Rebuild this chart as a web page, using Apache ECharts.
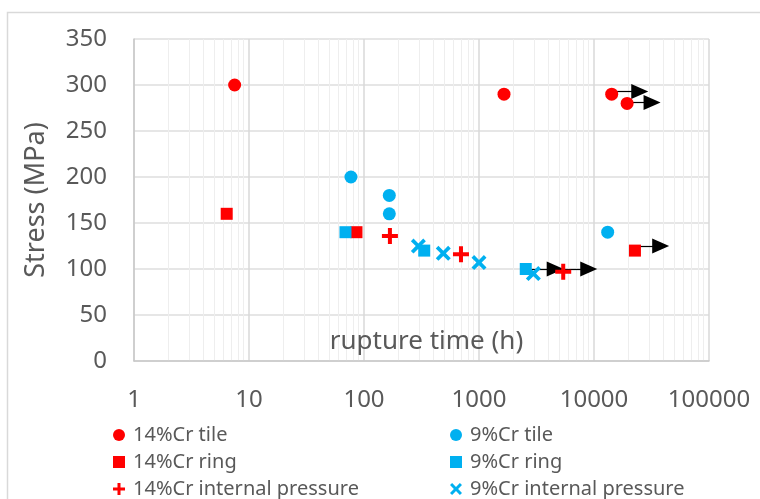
<!DOCTYPE html>
<html><head><meta charset="utf-8">
<script src="https://cdn.jsdelivr.net/npm/echarts@6/dist/echarts.min.js"></script>
<style>html,body{margin:0;padding:0;background:#fff}#c{width:760px;height:499px}</style>
</head><body><div id="c"></div>
<script>
// ---- data ----
const xTickLabels = ['1', '10', '100', '1000', '10000', '100000'];
const yTickLabels = ['0', '50', '100', '150', '200', '250', '300', '350'];

const cr14TileX = [7.5, 1650, 14250, 19400];
const cr14TileY = [300, 290, 290, 280];
const cr14RingX = [6.4, 86, 22700];
const cr14RingY = [160, 140, 120];
const cr14PressX = [168, 697, 5400];
const cr14PressY = [136, 116, 97];
const cr9TileX = [77, 166, 166, 13150];
const cr9TileY = [200, 180, 160, 140];
const cr9RingX = [69, 334, 2550];
const cr9RingY = [140, 120, 100];
const cr9PressX = [297, 489, 1000, 2970];
const cr9PressY = [125, 117, 107, 95];

// run-out arrows (start x, y, end x)
const arrowFromX = [14250, 19400, 22700, 5400, 2550];
const arrowY = [293, 281, 125, 100, 100];
const arrowToX = [25000, 32000, 38000, 9000, 4600];

// ---- chart ----
const FONT = "'Noto Sans', sans-serif";
const TXT = '#595959';
const RED = '#FF0000', BLUE = '#00B0F0';
const plusPath = 'path://M6,0H10V6H16V10H10V16H6V10H0V6H6Z';
const crossPath = 'path://M0,2.8L2.8,0L8,5.2L13.2,0L16,2.8L10.8,8L16,13.2L13.2,16L8,10.8L2.8,16L0,13.2L5.2,8Z';
function pts(xs, ys) { return xs.map((x, i) => [x, ys[i]]); }

const legendText = { fontFamily: FONT, fontSize: 20, color: TXT, lineHeight: 20, padding: [0, 0, 0, 3] };
const legendBase = { orient: 'vertical', top: 425, padding: 0, itemGap: 7, itemWidth: 12, itemHeight: 12, selectedMode: false, textStyle: legendText };

const chart = echarts.init(document.getElementById('c'));
chart.setOption({
  animation: false,
  backgroundColor: '#fff',
  graphic: [{ type: 'rect', silent: true, z: -10, shape: { x: 7.5, y: 12.5, width: 800, height: 600 }, style: { fill: 'none', stroke: '#d9d9d9', lineWidth: 1.5 } }],
  grid: { left: 134, top: 39, right: 51, bottom: 138, containLabel: false },
  legend: [
    Object.assign({}, legendBase, { left: 113, data: [
      { name: '14%Cr tile', icon: 'circle' },
      { name: '14%Cr ring', icon: 'rect' },
      { name: '14%Cr internal pressure', icon: plusPath }
    ] }),
    Object.assign({}, legendBase, { left: 450, data: [
      { name: '9%Cr tile', icon: 'circle' },
      { name: '9%Cr ring', icon: 'rect' },
      { name: '9%Cr internal pressure', icon: crossPath }
    ] })
  ],
  xAxis: {
    type: 'log', logBase: 10, min: 1, max: 100000,
    name: 'rupture time (h)', nameLocation: 'middle', nameGap: -32,
    nameTextStyle: { fontFamily: FONT, fontSize: 26, color: TXT, padding: [0, 0, 0, 10] },
    axisLine: { show: true, onZero: false, lineStyle: { color: '#c8c8c8', width: 1.5 } },
    axisTick: { show: false },
    axisLabel: { fontFamily: FONT, fontSize: 24, color: TXT, margin: 27, showMinLabel: true, showMaxLabel: true,
      formatter: v => { const i = Math.round(Math.log10(v)); return xTickLabels[i] !== undefined ? xTickLabels[i] : ''; } },
    splitLine: { show: true, lineStyle: { color: '#d9d9d9', width: 1.5 } },
    minorTick: { show: false, splitNumber: 9 },
    minorSplitLine: { show: true, lineStyle: { color: '#eeeeee', width: 1 } }
  },
  yAxis: {
    type: 'value', min: 0, max: 350, interval: 50,
    name: 'Stress (MPa)', nameLocation: 'middle', nameGap: 84,
    nameTextStyle: { fontFamily: FONT, fontSize: 27, color: TXT },
    axisLine: { show: true, lineStyle: { color: '#c8c8c8', width: 1.5 } },
    axisTick: { show: false },
    axisLabel: { fontFamily: FONT, fontSize: 24, color: TXT, margin: 27,
      formatter: v => { const i = Math.round(v / 50); return yTickLabels[i] !== undefined ? yTickLabels[i] : ''; } },
    splitLine: { show: true, lineStyle: { color: '#dedede', width: 1.5 } }
  },
  series: [
    { name: 'arrows', type: 'scatter', silent: true, symbolSize: 0, z: 1, data: pts(arrowFromX, arrowY),
      markLine: { silent: true, z: 1, animation: false, symbol: ['none', 'triangle'], symbolSize: [15, 17],
        lineStyle: { color: '#000', width: 1.2, type: 'solid' }, label: { show: false }, emphasis: { disabled: true },
        data: arrowFromX.map((x, i) => [{ coord: [x, arrowY[i]] }, { coord: [arrowToX[i], arrowY[i]] }]) } },
    { name: '14%Cr tile', type: 'scatter', z: 3, symbol: 'circle', symbolSize: 13, itemStyle: { color: RED, opacity: 1 }, data: pts(cr14TileX, cr14TileY) },
    { name: '14%Cr ring', type: 'scatter', z: 3, symbol: 'rect', symbolSize: 12, itemStyle: { color: RED, opacity: 1 }, data: pts(cr14RingX, cr14RingY) },
    { name: '14%Cr internal pressure', type: 'scatter', z: 3, symbol: plusPath, symbolSize: 16, itemStyle: { color: RED, opacity: 1 }, data: pts(cr14PressX, cr14PressY) },
    { name: '9%Cr tile', type: 'scatter', z: 3, symbol: 'circle', symbolSize: 13, itemStyle: { color: BLUE, opacity: 1 }, data: pts(cr9TileX, cr9TileY) },
    { name: '9%Cr internal pressure', type: 'scatter', z: 3, symbol: crossPath, symbolSize: 15, itemStyle: { color: BLUE, opacity: 1 }, data: pts(cr9PressX, cr9PressY) },
    { name: '9%Cr ring', type: 'scatter', z: 3, symbol: 'rect', symbolSize: 12, itemStyle: { color: BLUE, opacity: 1 }, data: pts(cr9RingX, cr9RingY) }
  ]
});
</script></body></html>
